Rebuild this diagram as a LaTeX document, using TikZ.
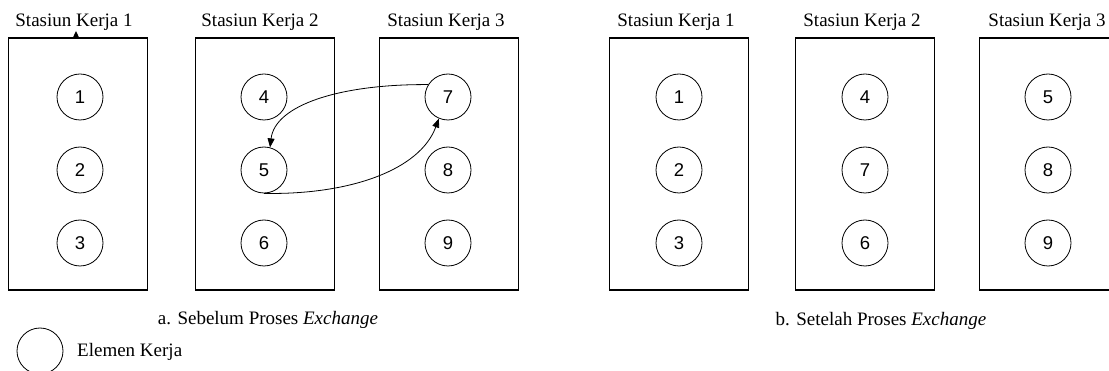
\documentclass[tikz,border=0pt]{standalone}
\usepackage{fontspec}
\setmainfont{Liberation Serif}
\newfontfamily\numfont{Liberation Sans}
\usetikzlibrary{arrows.meta}
\tikzset{
  station/.style={draw, line width=1.6pt, minimum width=139pt, minimum height=252pt, inner sep=0pt},
  elem/.style={draw, circle, line width=0.8pt, minimum size=46pt, inner sep=0pt, font=\numfont\fontsize{18.5}{20}\selectfont},
  title/.style={anchor=base, font=\fontsize{19}{22}\selectfont, inner sep=0pt},
  arr/.style={line width=0.8pt, -{Triangle[length=9pt,width=7pt]}}
}
\begin{document}
\begin{tikzpicture}[x=1pt,y=-1pt]
\useasboundingbox (0,0) rectangle (1109,371);
% work stations
\foreach \n/\cx in {a1/78, a2/265, a3/449, b1/679, b2/865, b3/1049}{
  \node[station] (\n) at (\cx,164) {};
}
\node[title] (ta1) at (74,27) {Stasiun Kerja 1};
\node[title] (ta2) at (260,27) {Stasiun Kerja 2};
\node[title] (ta3) at (446,27) {Stasiun Kerja 3};
\node[title] (tb1) at (676,27) {Stasiun Kerja 1};
\node[title] (tb2) at (862,27) {Stasiun Kerja 2};
\node[title] (tb3) at (1047,27) {Stasiun Kerja 3};
% elements before exchange
\node[elem] (n1) at (80,97) {1};
\node[elem] (n2) at (80,170) {2};
\node[elem] (n3) at (80,243) {3};
\node[elem] (n4) at (264,97) {4};
\node[elem] (n5) at (264,170) {5};
\node[elem] (n6) at (264,243) {6};
\node[elem] (n7) at (448,97) {7};
\node[elem] (n8) at (448,170) {8};
\node[elem] (n9) at (448,243) {9};
% elements after exchange
\node[elem] (m1) at (679,97) {1};
\node[elem] (m2) at (679,170) {2};
\node[elem] (m3) at (679,243) {3};
\node[elem] (m4) at (865,97) {4};
\node[elem] (m7) at (865,170) {7};
\node[elem] (m6) at (865,243) {6};
\node[elem] (m5) at (1048,97) {5};
\node[elem] (m8) at (1048,170) {8};
\node[elem] (m9) at (1048,243) {9};
% exchange arrows
\draw[arr] (n7.148) .. controls (340,84) and (275,105) .. (n5.75);
\draw[arr] (n5.south) .. controls (350,195) and (420,170) .. (n7.247);
% small mark on top of the first station
\fill (76,31) -- (72.5,38.5) -- (79.5,38.5) -- cycle;
% captions
\node[title] (capa) at (268,325) {a. Sebelum Proses \textit{Exchange}};
\node[title] (capb) at (881,326) {b. Setelah Proses \textit{Exchange}};
% legend
\node[elem] (leg) at (40,351) {};
\node[title, anchor=base west] (legt) at (77,357) {Elemen Kerja};
\end{tikzpicture}
\end{document}
